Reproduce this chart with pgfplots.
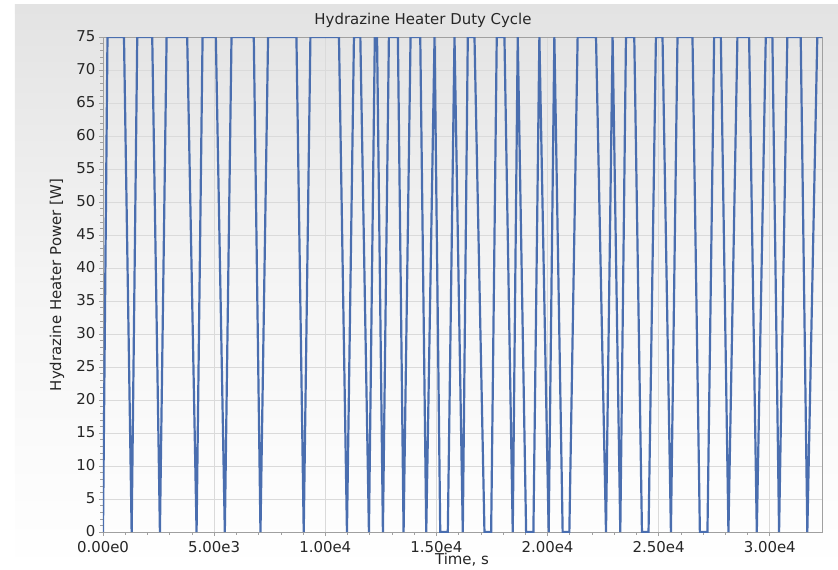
\documentclass[border=0pt]{standalone}
\usepackage{fontspec}
\setmainfont{DejaVu Sans}
\usepackage{pgfplots}
\pgfplotsset{compat=1.18}
\definecolor{heat}{HTML}{4A6EAF}
\definecolor{gridc}{HTML}{DADADA}
\definecolor{axc}{HTML}{A0A0A0}
\begin{document}
\begin{tikzpicture}
\useasboundingbox (-103bp,-38bp) rectangle (735bp,532bp);
\shade[top color=black!11, bottom color=white, middle color=black!4] (-88bp,-38bp) rectangle (735bp,527bp);
\begin{axis}[
  at={(0bp,0bp)}, anchor=south west,
  scale only axis, width=719bp, height=495bp,
  xmin=0, xmax=32350, ymin=0, ymax=75,
  xtick={0,5000,10000,15000,20000,25000,30000},
  xticklabels={0.00e0,5.00e3,1.00e4,1.50e4,2.00e4,2.50e4,3.00e4},
  ytick={0,5,...,75},
  minor x tick num=4, minor y tick num=4,
  grid=major, major grid style={gridc, line width=0.6bp},
  axis line style={axc, line width=0.8bp},
  tick style={axc, line width=0.6bp},
  tick align=outside, major tick length=4bp, minor tick length=2.5bp,
  xtick pos=bottom, ytick pos=left,
  ticklabel style={font=\fontsize{15}{18}\selectfont, text=black!85},
  xticklabel style={yshift=-2bp},
  yticklabel style={yshift=1bp},
  /pgf/number format/assume math mode=true,
  scaled x ticks=false,
  clip=true,
]
\addplot[heat, line width=2.2bp] coordinates {
(0,0) (202,75) (944,75) (1289,0)
(1541,75) (2215,75) (2561,0)
(2862,75) (3788,75) (4210,0)
(4480,75) (5077,75) (5481,0)
(5782,75) (6784,75) (7085,0)
(7427,75) (8703,75) (9031,0)
(9332,75) (10617,75) (10976,0)
(11291,75) (11578,75) (11965,0)
(12230,75) (12330,75) (12594,0)
(12863,75) (13268,75) (13524,0)
(13838,75) (14274,75) (14544,0)
(14917,75) (15173,0) (15514,0)
(15815,75) (16188,0)
(16413,75) (16714,75) (17163,0) (17464,0)
(17716,75) (18062,75) (18435,0)
(18660,75) (19037,0) (19365,0)
(19634,75) (20052,0)
(20308,75) (20681,0) (20982,0)
(21355,75) (22182,75) (22631,0)
(22928,75) (23274,0)
(23530,75) (23903,75) (24249,0) (24545,0)
(24878,75) (25174,75) (25552,0)
(25848,75) (26522,75) (26855,0) (27196,0)
(27497,75) (27798,75) (28140,0)
(28544,75) (29070,75) (29416,0)
(29820,75) (30117,75) (30418,0)
(30790,75) (31392,75) (31689,0)
(32138,75) (32350,75)
};
\end{axis}
\node[font=\fontsize{15}{18}\selectfont, text=black!85] at (320bp,512bp) {Hydrazine Heater Duty Cycle};
\node[font=\fontsize{15}{18}\selectfont, text=black!85, rotate=90] at (-46bp,247bp) {Hydrazine Heater Power [W]};
\node[font=\fontsize{15}{18}\selectfont, text=black!85] at (359bp,-28bp) {Time, s};
\end{tikzpicture}
\end{document}
